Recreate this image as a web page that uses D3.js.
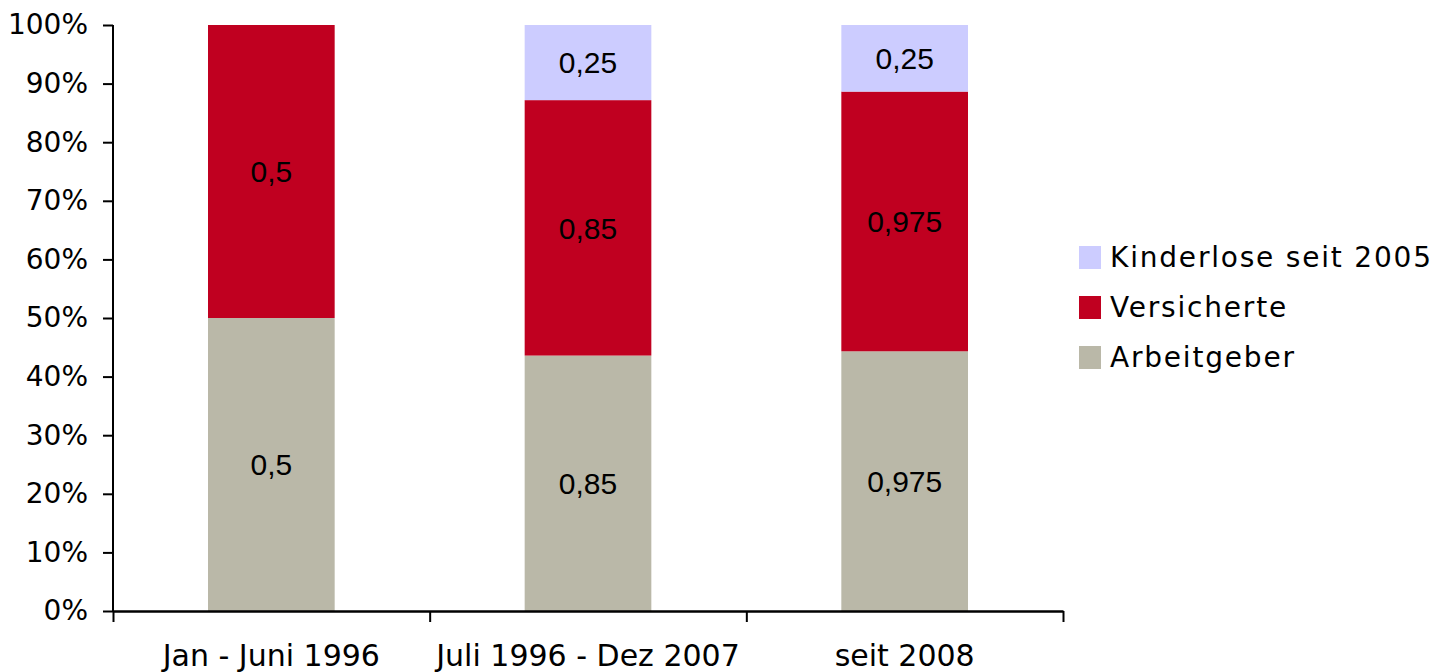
<!DOCTYPE html>
<html>
<head>
<meta charset="utf-8">
<script src="https://cdn.jsdelivr.net/npm/d3@7"></script>
<style>
  html, body { margin: 0; padding: 0; background: #fff; }
  #chart { width: 1450px; height: 672px; }
</style>
</head>
<body>
<div id="chart"></div>
<script>
// Categories (periods)
const categories = ['Jan - Juni 1996', 'Juli 1996 - Dez 2007', 'seit 2008'];

// Series values (contribution rates, in %)
const arbeitgeber = [0.5, 0.85, 0.975];
const versicherte = [0.5, 0.85, 0.975];
const kinderlose = [0, 0.25, 0.25];

const seriesNames = ['Arbeitgeber', 'Versicherte', 'Kinderlose seit 2005'];
const seriesColors = ['#bab8a8', '#c00020', '#ccccff'];

// Y tick values (share)
const yTicks = [0, 0.1, 0.2, 0.3, 0.4, 0.5, 0.6, 0.7, 0.8, 0.9, 1];

const seriesValues = [arbeitgeber, versicherte, kinderlose];

// Build table rows for the stack layout
const rows = categories.map((c, i) => {
  const row = { cat: c };
  seriesNames.forEach((s, j) => { row[s] = seriesValues[j][i]; });
  return row;
});

const margin = {top: 25, right: 387, bottom: 61, left: 113},
  width = 1450 - margin.left - margin.right,
  height = 672 - margin.top - margin.bottom;

const svg = d3.select('#chart')
  .append('svg')
    .attr('width', 1450)
    .attr('height', 672)
  .append('g')
    .attr('transform', 'translate(' + margin.left + ',' + margin.top + ')');

const x = d3.scaleBand()
  .domain(categories)
  .range([0, width])
  .paddingInner(0.6)
  .paddingOuter(0.3);

const y = d3.scaleLinear().domain([0, 1]).range([height, 0]);

// Stack, normalised to 100%
const stacked = d3.stack()
  .keys(seriesNames)
  .offset(d3.stackOffsetExpand)(rows);

const layers = svg.append('g')
  .selectAll('g')
  .data(stacked)
  .enter()
  .append('g')
    .attr('fill', (d, i) => seriesColors[i]);

layers.selectAll('rect')
  .data(d => d.filter(p => p[1] - p[0] > 0))
  .enter()
  .append('rect')
    .attr('x', d => x(d.data.cat))
    .attr('y', d => y(d[1]))
    .attr('width', x.bandwidth())
    .attr('height', d => y(d[0]) - y(d[1]));

// Data labels
layers.selectAll('text')
  .data((d) => d.filter(p => p[1] - p[0] > 0).map(p => ({p: p, key: d.key})))
  .enter()
  .append('text')
    .attr('x', d => x(d.p.data.cat) + x.bandwidth() / 2)
    .attr('y', d => (y(d.p[0]) + y(d.p[1])) / 2)
    .attr('dy', '0.36em')
    .attr('text-anchor', 'middle')
    .style('font-family', '"Liberation Sans", Arial, sans-serif')
    .style('font-size', '30px')
    .attr('fill', '#000')
    .text(d => String(d.p.data[d.key]).replace('.', ','));

// Y axis
const yAxis = svg.append('g')
  .call(d3.axisLeft(y).tickValues(yTicks).tickFormat(d3.format('.0%')).tickSize(10).tickPadding(15));
yAxis.select('.domain').attr('stroke', '#000').attr('stroke-width', 2).attr('d', 'M0,' + height + 'V0');
yAxis.selectAll('.tick line').attr('stroke-width', 2);
yAxis.selectAll('text')
  .style('font-family', '"DejaVu Sans", Verdana, sans-serif')
  .style('font-size', '28px')
  .attr('fill', '#000');

// X axis: boundary ticks
const xb = d3.scaleLinear().domain([0, categories.length]).range([0, width]);
const xTicks = svg.append('g')
  .attr('transform', 'translate(0,' + height + ')')
  .call(d3.axisBottom(xb).tickValues(d3.range(categories.length + 1)).tickFormat('').tickSize(11).tickSizeOuter(0));
xTicks.select('.domain').attr('stroke-width', 2.5);
xTicks.selectAll('.tick line').attr('stroke-width', 2);

// X axis: category labels
const xLabels = svg.append('g')
  .attr('transform', 'translate(0,' + height + ')')
  .call(d3.axisBottom(x).tickSize(0).tickPadding(34));
xLabels.select('.domain').remove();
xLabels.selectAll('text')
  .style('font-family', '"DejaVu Sans", Verdana, sans-serif')
  .style('font-size', '30px')
  .attr('fill', '#000');

// Legend (top entry = top of stack)
const legend = svg.append('g')
  .attr('transform', 'translate(' + (width + 16) + ',0)');
const legendOrder = [2, 1, 0];
legendOrder.forEach((si, k) => {
  const g = legend.append('g').attr('transform', 'translate(0,' + (221 + k * 50) + ')');
  g.append('rect')
    .attr('width', 22).attr('height', 23)
    .attr('fill', seriesColors[si]);
  g.append('text')
    .attr('x', 31)
    .attr('y', 21)
    .style('font-family', '"DejaVu Sans", Verdana, sans-serif')
    .style('font-size', '28px')
    .style('letter-spacing', '1.8px')
    .attr('fill', '#000')
    .text(seriesNames[si]);
});
</script>
</body>
</html>
